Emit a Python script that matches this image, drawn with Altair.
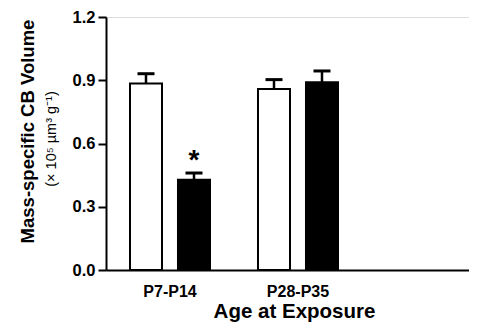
import altair as alt
import pandas as pd

groups = ["P7-P14", "P7-P14", "P28-P35", "P28-P35"]
series = ["Control", "Exposed", "Control", "Exposed"]
means = [0.884, 0.428, 0.858, 0.891]
sems = [0.047, 0.032, 0.045, 0.053]
group_order = ["P7-P14", "P28-P35"]
series_order = ["Control", "Exposed"]
star_flags = ["", "*", "", ""]
y_ticks = [0.0, 0.3, 0.6, 0.9, 1.2]

df = pd.DataFrame({"group": groups, "series": series, "mean": means, "sem": sems, "star": star_flags})
df["top"] = df["mean"] + df["sem"]

FONT = "Liberation Sans"

x_enc = alt.X("group:N", sort=group_order,
              scale=alt.Scale(paddingInner=0, paddingOuter=0.418, align=0),
              axis=alt.Axis(title="Age at Exposure", labelAngle=0, ticks=False,
                            labelFont=FONT, labelFontWeight="bold", labelFontSize=16,
                            labelColor="black", labelPadding=13,
                            titleFont=FONT, titleFontWeight="bold", titleFontSize=20.5,
                            titleColor="black", titlePadding=2, titleX=188,
                            domainColor="black", domainWidth=2))
xo_enc = alt.XOffset("series:N", sort=series_order,
                     scale=alt.Scale(paddingInner=0.333, paddingOuter=0.5))
y_scale = alt.Scale(domain=[0, 1.2], nice=False, zero=True)
color_enc = alt.Color("series:N", sort=series_order,
                      scale=alt.Scale(domain=series_order, range=["white", "black"]),
                      legend=None)

base = alt.Chart(df)

err = base.mark_rule(color="black", strokeWidth=2.5).encode(
    x=x_enc, xOffset=xo_enc,
    y=alt.Y("mean:Q", scale=y_scale),
    y2="top:Q",
)
cap = base.mark_tick(color="black", size=17, thickness=3, opacity=1).encode(
    x=x_enc, xOffset=xo_enc,
    y=alt.Y("top:Q", scale=y_scale),
)
bars = base.mark_bar(stroke="black", strokeWidth=2, opacity=1).encode(
    x=x_enc, xOffset=xo_enc,
    y=alt.Y("mean:Q", scale=y_scale,
            axis=alt.Axis(title="Mass-specific CB Volume", values=y_ticks, format=".1f",
                          grid=False, tickSize=8, tickWidth=2, tickColor="black",
                          domainColor="black", domainWidth=2,
                          labelFont=FONT, labelFontWeight="bold", labelFontSize=16.5,
                          labelColor="black", labelPadding=3,
                          titleFont=FONT, titleFontWeight="bold", titleFontSize=18.5,
                          titleColor="black", titleX=-79, titleY=114,
                          titleBaseline="middle", titleAngle=270)),
    color=color_enc,
)
stars = base.mark_text(font=FONT, fontWeight="bold", fontSize=28, baseline="middle",
                       dy=-12, color="black").encode(
    x=x_enc, xOffset=xo_enc,
    y=alt.Y("top:Q", scale=y_scale),
    text="star:N",
)
sub = alt.Chart(pd.DataFrame({"t": ["(× 10⁵ µm³ g⁻¹)"]})).mark_text(
    font=FONT, fontSize=14.5, angle=270, baseline="middle", align="center", color="black"
).encode(text="t:N", x=alt.value(-54), y=alt.value(122))

chart = alt.layer(err, cap, bars, stars, sub).properties(
    width=363, height=253,
    autosize=alt.AutoSizeParams(type="none"),
    padding={"left": 98, "top": 9, "right": 0, "bottom": 56},
).configure_view(stroke=None).configure(background="white")

chart.save("out.html", embed_options={"renderer": "svg", "actions": False})
